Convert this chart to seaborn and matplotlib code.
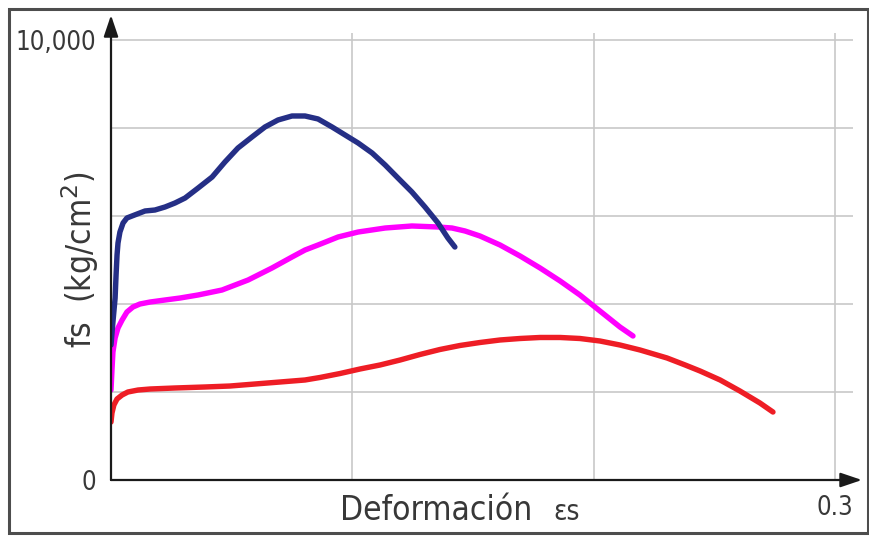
import pandas as pd
import seaborn as sns
import matplotlib.pyplot as plt
from matplotlib.patches import Rectangle

# Stress–strain curves for three steel grades: strain (-) and stress fs (kg/cm²)
strain_high = [0.0000, 0.0008, 0.0017, 0.0021, 0.0025, 0.0029, 0.0037, 0.0050, 0.0066,
               0.0087, 0.0141, 0.0182, 0.0224, 0.0265, 0.0307, 0.0361, 0.0419, 0.0472,
               0.0526, 0.0584, 0.0638, 0.0692, 0.0750, 0.0804, 0.0858, 0.0916, 0.0970,
               0.1024, 0.1082, 0.1136, 0.1189, 0.1247, 0.1301, 0.1355, 0.1396, 0.1425]
stress_high = [3068, 3591, 4136, 4659, 5114, 5386, 5636, 5841, 5955,
               6000, 6114, 6136, 6205, 6295, 6409, 6636, 6886, 7227,
               7545, 7795, 8023, 8182, 8273, 8273, 8205, 8023, 7841,
               7659, 7432, 7159, 6864, 6545, 6205, 5841, 5500, 5295]

strain_mid = [0.0000, 0.0004, 0.0008, 0.0017, 0.0029, 0.0046, 0.0066, 0.0091, 0.0120,
              0.0162, 0.0224, 0.0286, 0.0361, 0.0460, 0.0568, 0.0667, 0.0750, 0.0804,
              0.0858, 0.0941, 0.1024, 0.1136, 0.1247, 0.1355, 0.1413, 0.1467, 0.1529,
              0.1612, 0.1695, 0.1778, 0.1861, 0.1943, 0.2026, 0.2109, 0.2163]
stress_mid = [2045, 2500, 2909, 3227, 3455, 3636, 3818, 3932, 4000,
              4045, 4091, 4136, 4205, 4318, 4545, 4818, 5068, 5227,
              5341, 5523, 5636, 5727, 5773, 5750, 5727, 5659, 5545,
              5341, 5091, 4818, 4523, 4205, 3841, 3477, 3273]

strain_low = [0.0000, 0.0004, 0.0012, 0.0025, 0.0046, 0.0070, 0.0112, 0.0162, 0.0265,
              0.0390, 0.0493, 0.0597, 0.0700, 0.0804, 0.0866, 0.0949, 0.1032, 0.1115,
              0.1198, 0.1280, 0.1363, 0.1446, 0.1529, 0.1612, 0.1695, 0.1778, 0.1861,
              0.1943, 0.2026, 0.2109, 0.2192, 0.2304, 0.2379, 0.2441, 0.2524, 0.2606,
              0.2689, 0.2743]
stress_low = [1318, 1523, 1705, 1841, 1932, 2000, 2045, 2068, 2091,
              2114, 2136, 2182, 2227, 2273, 2330, 2420, 2523, 2614,
              2727, 2852, 2966, 3057, 3125, 3182, 3216, 3239, 3239,
              3216, 3159, 3068, 2955, 2773, 2614, 2477, 2273, 2023,
              1750, 1545]

grades = ["baja", "media", "alta"]
grade_colors = ["#ee1d25", "#ff00ff", "#252f86"]

x_ticks = [0, 0.3]
x_tick_labels = ["", "0.3"]
x_grid = [0.1, 0.2]
y_ticks = [0, 10000]
y_tick_labels = ["0", "10,000"]
y_grid = [2000, 4000, 6000, 8000]

curves = pd.concat([
    pd.DataFrame({"strain": strain_low, "stress": stress_low, "grade": "baja"}),
    pd.DataFrame({"strain": strain_mid, "stress": stress_mid, "grade": "media"}),
    pd.DataFrame({"strain": strain_high, "stress": stress_high, "grade": "alta"}),
], ignore_index=True)

sns.set_theme(style="white")
plt.rcParams["font.family"] = ["DejaVu Sans"]
text_color = "#383838"
grid_color = "#c8c8c8"
axis_color = "#1a1a1a"

W, H = 870, 536
fig = plt.figure(figsize=(W / 100, H / 100), dpi=100)
left, right, top, bottom = 111, 853, 33, 480
ax = fig.add_axes([left / W, 1 - bottom / H, (right - left) / W, (bottom - top) / H])

sns.lineplot(data=curves, x="strain", y="stress", hue="grade", hue_order=grades,
             palette=dict(zip(grades, grade_colors)), sort=False, estimator=None,
             linewidth=3.9, legend=False, ax=ax, solid_capstyle="round",
             solid_joinstyle="round")

ax.set_xlim(0, (right - left) / 2413.3)
ax.set_ylim(0, (bottom - top) / 0.044)

ax.set_xticks(x_ticks)
ax.set_xticklabels(x_tick_labels)
ax.set_xticks(x_grid, minor=True)
ax.set_yticks(y_ticks)
ax.set_yticklabels(y_tick_labels)
ax.set_yticks(y_grid, minor=True)
ax.grid(True, which="both", color=grid_color, linewidth=1.2)
ax.set_axisbelow(True)
ax.tick_params(which="minor", length=0)
ax.tick_params(which="major", length=8, width=1.3, direction="out", pad=3,
               labelsize=18.5, labelcolor=text_color, color=axis_color)
for lbl in ax.get_xticklabels() + ax.get_yticklabels():
    lbl.set_fontstretch("condensed")
ax.xaxis.get_major_ticks()[1].tick1line.set_color(grid_color)
ax.yaxis.get_major_ticks()[1].tick1line.set_color(grid_color)

for s in ax.spines.values():
    s.set_visible(False)

arrow = dict(arrowstyle="-|>,head_length=0.65,head_width=0.22", color=axis_color,
             lw=1.6, shrinkA=0, shrinkB=0, mutation_scale=20)
ax.annotate("", xy=(0, 1.040), xytext=(0, 0), xycoords="axes fraction",
            arrowprops=arrow, annotation_clip=False)
ax.annotate("", xy=(1.012, 0), xytext=(0, 0), xycoords="axes fraction",
            arrowprops=arrow, annotation_clip=False)

ax.set_ylabel("fs  (kg/cm$^2$)", fontsize=24, color=text_color, fontstretch="condensed")
ax.yaxis.set_label_coords(-0.042, 0.492)
ax.yaxis.label.set_va("center")
ax.set_xlabel("Deformación", fontsize=24, color=text_color, fontstretch="condensed")
ax.xaxis.set_label_coords(0.438, -0.0895)
ax.xaxis.label.set_va("baseline")
ax.text(0.614, -0.0895, "εs", transform=ax.transAxes, ha="center", va="baseline",
        fontsize=20, color=text_color, fontstretch="condensed")

fig.add_artist(Rectangle((9 / W, (H - 533) / H), 859 / W, 524 / H,
                         transform=fig.transFigure, fill=False,
                         edgecolor="#4d4d4d", linewidth=2.2))

fig.savefig("out.png", dpi=100)
